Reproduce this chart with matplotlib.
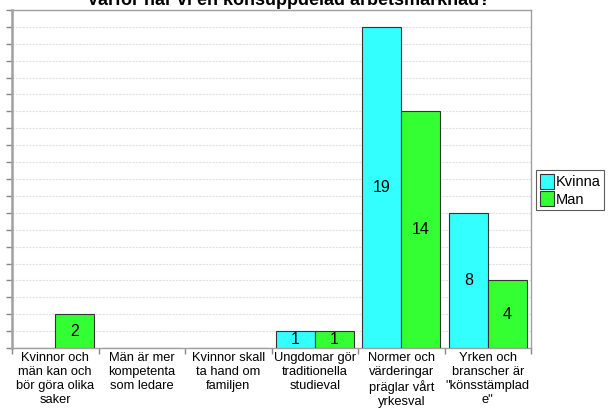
import numpy as np
import matplotlib.pyplot as plt
from matplotlib.ticker import FixedLocator, NullFormatter

# --- data ---
categories = [
    "Kvinnor och\nmän kan och\nbör göra olika\nsaker",
    "Män är mer\nkompetenta\nsom ledare",
    "Kvinnor skall\nta hand om\nfamiljen",
    "Ungdomar gör\ntraditionella\nstudieval",
    "Normer och\nvärderingar\npräglar vårt\nyrkesval",
    "Yrken och\nbranscher är\n\"könsstämplad\ne\"",
]
kvinna = [0, 0, 0, 1, 19, 8]
man = [2, 0, 0, 1, 14, 4]
series_names = ["Kvinna", "Man"]
title = "Varför har vi en könsuppdelad arbetsmarknad?"

plt.rcParams['font.family'] = ['Liberation Sans', 'DejaVu Sans']

fig = plt.figure(figsize=(6.08, 4.08), dpi=100)
ax = fig.add_axes([12 / 608, 60 / 408, 519 / 608, 338 / 408])

x = np.arange(len(categories))
w = 0.45
colors = ['#33ffff', '#33ff33']
for i, (vals, name) in enumerate(zip([kvinna, man], series_names)):
    pos = x - w / 2 + i * w
    bars = ax.bar(pos, vals, width=w, color=colors[i], edgecolor='#333333',
                  linewidth=0.8, label=name, zorder=3)
    for b, v in zip(bars, vals):
        if v > 0:
            ax.text(b.get_x() + b.get_width() / 2, v / 2, str(v),
                    ha='center', va='center', fontsize=11.5, zorder=4)

ax.set_xlim(-0.5, len(categories) - 0.5)
ax.set_ylim(0, 20)
ax.set_yticks(range(0, 21))
ax.yaxis.set_major_formatter(NullFormatter())
ax.tick_params(axis='y', length=4, color='#888888', width=1)

ax.set_xticks(x)
ax.set_xticklabels(categories, fontsize=9.3, linespacing=1.2)
ax.tick_params(axis='x', which='major', length=0, pad=3)
ax.xaxis.set_minor_locator(FixedLocator(np.arange(-0.5, len(categories), 1)))
ax.tick_params(axis='x', which='minor', length=4, color='#888888', width=1)

ax.grid(axis='y', color='#e2e2e2', linestyle=(0, (2, 1)), linewidth=0.8, zorder=0)
for side in ['top', 'right', 'bottom']:
    ax.spines[side].set_color('#a0a0a0')
    ax.spines[side].set_linewidth(1)
ax.spines['left'].set_color('#a0a0a0')
ax.spines['left'].set_linewidth(1.8)

leg = ax.legend(loc='center left', bbox_to_anchor=(1.01, 0.467), fontsize=10.5,
                frameon=True, fancybox=False, edgecolor='#333333',
                handlelength=1.0, handleheight=1.2, handletextpad=0.1,
                borderpad=0.25, labelspacing=0.15, borderaxespad=0)
leg.get_frame().set_linewidth(0.8)

# title sits mostly above the canvas edge
fig.text(0.475, 1 - 5 / 408, title, ha='center', va='baseline',
         fontsize=13, fontweight='bold')

fig.savefig('out.png', dpi=100)
